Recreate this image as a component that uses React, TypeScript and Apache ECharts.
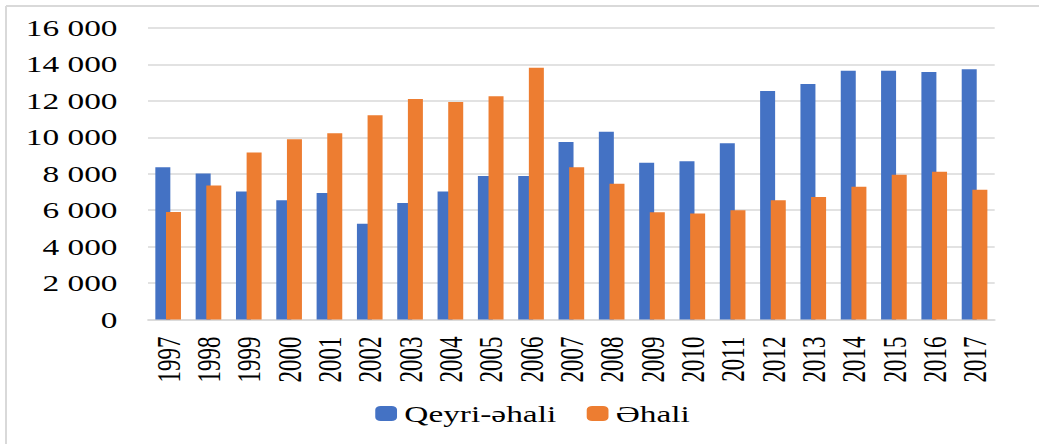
import React, { useEffect, useRef } from "react";
import * as echarts from "echarts";

const years = ["1997","1998","1999","2000","2001","2002","2003","2004","2005","2006","2007","2008","2009","2010","2011","2012","2013","2014","2015","2016","2017"];
const qeyriEhali = [8350, 8020, 7030, 6550, 6950, 5250, 6390, 7030, 7870, 7870, 9740, 10300, 8600, 8680, 9670, 12540, 12920, 13650, 13650, 13580, 13730];
const ehali = [5900, 7360, 9170, 9890, 10220, 11210, 12100, 11940, 12250, 13820, 8350, 7450, 5890, 5820, 5990, 6550, 6720, 7280, 7940, 8110, 7120];
const seriesNames = ["Qeyri-əhali", "Əhali"];

const FULL_W = 1039;
const FULL_H = 444;
const INNER_W = 716;
const K = FULL_W / INNER_W;
const FONT = "'Liberation Serif', 'Times New Roman', serif";

export default function App() {
  const ref = useRef<HTMLDivElement>(null);
  useEffect(() => {
    if (!ref.current) return;
    const chart = echarts.init(ref.current, undefined, { renderer: "svg" });
    const fmt = (v: number) => String(v).replace(/\B(?=(\d{3})+(?!\d))/g, " ");
    chart.setOption({
      animation: false,
      backgroundColor: "#ffffff",
      color: ["#4472C4", "#ED7D31"],
      graphic: [
        { type: "line", shape: { x1: 6 / K, y1: 6, x2: INNER_W + 10, y2: 6 }, style: { stroke: "#d9d9d9", lineWidth: 2 } },
        { type: "line", shape: { x1: 6 / K, y1: 6, x2: 6 / K, y2: FULL_H + 10 }, style: { stroke: "#d9d9d9", lineWidth: 1.4 } },
      ],
      grid: { left: 148 / K, right: (FULL_W - 994.7) / K, top: 28, bottom: 124.5, containLabel: false },
      legend: {
        data: seriesNames,
        left: 368 / K,
        top: 397,
        itemWidth: 15,
        itemHeight: 15,
        itemGap: 21,
        icon: "roundRect",
        textStyle: { fontFamily: FONT, fontSize: 23, color: "#000" },
      },
      xAxis: {
        type: "category",
        data: years,
        axisTick: { show: false },
        axisLine: { lineStyle: { color: "#d9d9d9", width: 1.5 } },
        axisLabel: { rotate: 90, margin: 17, fontFamily: FONT, fontSize: 23, color: "#000", interval: 0 },
      },
      yAxis: {
        type: "value",
        min: 0,
        max: 16000,
        interval: 2000,
        axisLine: { show: false },
        axisTick: { show: false },
        splitLine: { lineStyle: { color: "#d9d9d9", width: 1.5 } },
        axisLabel: { margin: 21, fontFamily: FONT, fontSize: 23, color: "#000", formatter: fmt },
      },
      series: [
        { name: seriesNames[0], type: "bar", data: qeyriEhali, barWidth: 15 / K, barGap: "-29%" },
        { name: seriesNames[1], type: "bar", data: ehali, barWidth: 15 / K, barGap: "-29%" },
      ],
    });
    return () => chart.dispose();
  }, []);
  return (
    <div style={{ position: "fixed", left: 0, top: 0, width: FULL_W, height: FULL_H, overflow: "hidden", background: "#fff" }}>
      <div
        ref={ref}
        style={{ width: INNER_W, height: FULL_H, transform: `scaleX(${K})`, transformOrigin: "0 0" }}
      />
    </div>
  );
}
